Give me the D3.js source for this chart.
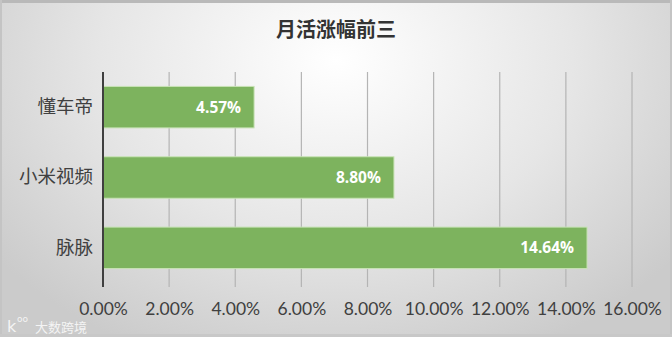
<!DOCTYPE html>
<html>
<head>
<meta charset="utf-8">
<script src="https://cdn.jsdelivr.net/npm/d3@7/dist/d3.min.js"></script>
<style>
  html, body { margin: 0; padding: 0; background: #fff; }
  svg { display: block; }
</style>
</head>
<body>
<svg id="chart" width="672" height="337"></svg>
<script>
// Monthly-active growth, top three apps
const categories = ["懂车帝", "小米视频", "脉脉"];
const growth = [4.57, 8.80, 14.64];
const tickValues = [0, 2, 4, 6, 8, 10, 12, 14, 16];
const tickLabels = ["0.00%", "2.00%", "4.00%", "6.00%", "8.00%", "10.00%", "12.00%", "14.00%", "16.00%"];
const title = "月活涨幅前三";

const W = 672, H = 337;
const margin = { left: 103, right: 40, top: 72, bottom: 52 };
const svg = d3.select("#chart");

// Background: soft radial fade from white near the title to grey at the edges
const defs = svg.append("defs");
const grad = defs.append("radialGradient")
  .attr("id", "bg")
  .attr("gradientUnits", "userSpaceOnUse")
  .attr("cx", 336).attr("cy", 60).attr("r", 430)
  .attr("gradientTransform", "translate(336,60) scale(1,0.75) translate(-336,-60)");
grad.append("stop").attr("offset", "0%").attr("stop-color", "#ffffff");
grad.append("stop").attr("offset", "55%").attr("stop-color", "#e6e6e6");
grad.append("stop").attr("offset", "100%").attr("stop-color", "#cbcbcb");

svg.append("rect").attr("width", W).attr("height", H).attr("fill", "url(#bg)");
// Thin frame
svg.append("rect").attr("x", 0).attr("y", 0).attr("width", W).attr("height", 3).attr("fill", "#b9b9b9");
svg.append("rect").attr("x", 0).attr("y", 0).attr("width", 2).attr("height", H).attr("fill", "#c4c4c4");
svg.append("rect").attr("x", W - 2).attr("y", 0).attr("width", 2).attr("height", H).attr("fill", "#c4c4c4");
svg.append("rect").attr("x", 0).attr("y", H - 3).attr("width", W).attr("height", 3).attr("fill", "#c8c8c8");

const x = d3.scaleLinear().domain([0, 16]).range([margin.left, W - margin.right]);
const y = d3.scaleBand().domain(categories).range([margin.top, H - margin.bottom - 2]).paddingInner(0.41).paddingOuter(0.205);

// Vertical gridlines (extend a few px below the plot as tick marks)
svg.append("g")
  .selectAll("line")
  .data(tickValues.filter(v => v > 0))
  .join("line")
  .attr("x1", d => x(d)).attr("x2", d => x(d))
  .attr("y1", margin.top).attr("y2", H - margin.bottom + 2)
  .attr("stroke", "#b4b4b4").attr("stroke-width", 1.2);

// Bars
svg.append("g")
  .selectAll("rect")
  .data(categories)
  .join("rect")
  .attr("x", x(0))
  .attr("y", d => y(d))
  .attr("width", (d, i) => x(growth[i]) - x(0))
  .attr("height", y.bandwidth())
  .attr("fill", "#7db35e")
  .attr("stroke", "#c9e3b7")
  .attr("stroke-width", 1);

// Value labels inside the bar ends
svg.append("g")
  .selectAll("text")
  .data(categories)
  .join("text")
  .attr("x", (d, i) => x(growth[i]) - 13)
  .attr("y", d => y(d) + y.bandwidth() / 2)
  .attr("dy", "0.36em")
  .attr("text-anchor", "end")
  .attr("font-family", "'Open Sans', 'Noto Sans', sans-serif")
  .attr("font-weight", "bold")
  .attr("font-size", 15.5)
  .attr("fill", "#ffffff")
  .text((d, i) => growth[i].toFixed(2) + "%");

// Category axis line
svg.append("line")
  .attr("x1", x(0)).attr("x2", x(0))
  .attr("y1", margin.top).attr("y2", H - margin.bottom + 2)
  .attr("stroke", "#3f3f3f").attr("stroke-width", 2);

// Category labels
const yAxis = d3.axisLeft(y).tickSize(0).tickPadding(10);
const gy = svg.append("g").attr("transform", `translate(${x(0)},0)`).call(yAxis);
gy.select(".domain").remove();
gy.selectAll("text")
  .attr("font-family", "'Noto Sans CJK SC', sans-serif")
  .attr("font-size", 18.5)
  .attr("fill", "#404040");

// Value axis labels
const xAxis = d3.axisBottom(x).tickValues(tickValues).tickSize(0).tickPadding(0)
  .tickFormat((d, i) => tickLabels[i]);
const gx = svg.append("g").attr("transform", `translate(0,${H - margin.bottom + 18})`).call(xAxis);
gx.select(".domain").remove();
gx.selectAll("text")
  .attr("font-family", "Lato, 'Noto Sans', sans-serif")
  .attr("font-size", 17.5)
  .attr("fill", "#404040");

// Title
svg.append("text")
  .attr("x", W / 2).attr("y", 37)
  .attr("text-anchor", "middle")
  .attr("font-family", "'Noto Sans CJK SC', sans-serif")
  .attr("font-weight", "bold")
  .attr("font-size", 20)
  .attr("fill", "#333333")
  .text(title);

// Source mark, bottom left
const mark = svg.append("g").attr("opacity", 0.8);
mark.append("text")
  .attr("x", 7).attr("y", 332)
  .attr("font-family", "'DejaVu Sans', sans-serif")
  .attr("font-size", 16)
  .attr("fill", "#ffffff")
  .text("k");
mark.append("text")
  .attr("x", 17).attr("y", 322)
  .attr("font-family", "'DejaVu Sans', sans-serif")
  .attr("font-size", 9)
  .attr("fill", "#ffffff")
  .text("oo");
mark.append("text")
  .attr("x", 35).attr("y", 332)
  .attr("font-family", "'Noto Sans CJK SC', sans-serif")
  .attr("font-size", 13)
  .attr("fill", "#ffffff")
  .text("大数跨境");
</script>
</body>
</html>
